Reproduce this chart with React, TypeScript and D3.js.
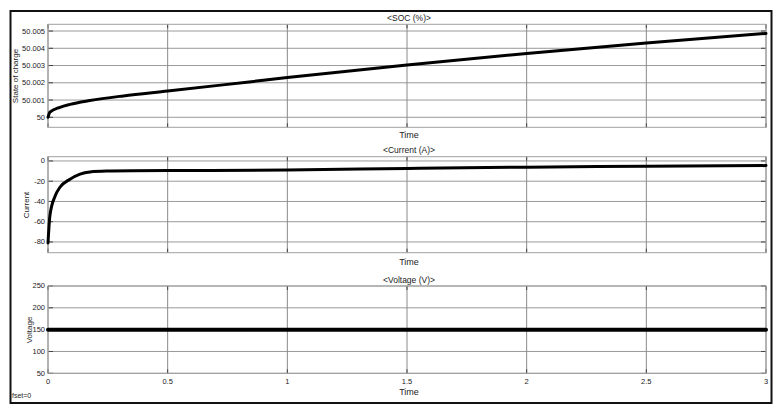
import React from 'react';
import * as d3 from 'd3';

// time axis, seconds
const timeTicks = [0, 0.5, 1, 1.5, 2, 2.5, 3];

// SOC (%)
const socTime = [0, 0.008, 0.05, 0.092, 0.175, 0.315, 0.5, 0.84, 1.0, 1.5, 2.0, 2.5, 3.0];
const socValue = [50.0, 50.0003, 50.00058, 50.00075, 50.00097, 50.00124, 50.00152, 50.00205, 50.0023, 50.00303, 50.0037, 50.00431, 50.00486];
const socTicks = [50, 50.001, 50.002, 50.003, 50.004, 50.005];
const socTickLabels = ['50', '50.001', '50.002', '50.003', '50.004', '50.005'];

// Current (A)
const curTime = [0, 0.008, 0.029, 0.05, 0.092, 0.134, 0.175, 0.245, 0.35, 0.5, 1.0, 1.5, 2.0, 2.5, 3.0];
const curValue = [-81, -54, -35, -26, -18, -13, -10.8, -9.9, -9.6, -9.5, -8.9, -7.4, -6.1, -5.3, -4.6];
const curTicks = [0, -20, -40, -60, -80];

// Voltage (V)
const voltTime = [0, 3];
const voltValue = [150, 150];
const voltTicks = [50, 100, 150, 200, 250];

const X0 = 48;
const X1 = 766;
const FONT = 'Liberation Sans, Arial, sans-serif';

type PanelProps = {
  top: number;
  bottom: number;
  domain: [number, number];
  ticks: number[];
  tickLabels?: string[];
  title: string;
  titleY: number;
  ylabel: string;
  ylabelX: number;
  ylabelY: number;
  timeY: number;
  xs: number[];
  ys: number[];
  lineWidth: number;
  showXTicks?: boolean;
};

function Panel(p: PanelProps) {
  const x = d3.scaleLinear().domain([0, 3]).range([X0, X1]);
  const y = d3.scaleLinear().domain(p.domain).range([p.bottom, p.top]);
  const pts = p.xs.map((t, i) => [t, p.ys[i]] as [number, number]);
  const line = d3
    .line<[number, number]>()
    .x(d => x(d[0]))
    .y(d => y(d[1]))
    .curve(d3.curveMonotoneX);

  return (
    <g>
      {/* horizontal grid */}
      {p.ticks.map((t, i) => (
        <g key={'h' + i}>
          <line x1={X0} x2={X1} y1={y(t)} y2={y(t)} stroke="#9a9a9a" strokeWidth={1} />
          <line x1={X0} x2={X0 + 5} y1={y(t)} y2={y(t)} stroke="#444" strokeWidth={1} />
          <line x1={X1 - 5} x2={X1} y1={y(t)} y2={y(t)} stroke="#444" strokeWidth={1} />
          <text x={45} y={y(t)} dy="0.33em" textAnchor="end" fontSize={7.5} fill="#222" fontFamily={FONT}>
            {p.tickLabels ? p.tickLabels[i] : String(t)}
          </text>
        </g>
      ))}
      {/* vertical grid */}
      {timeTicks.map((t, i) => (
        <g key={'v' + i}>
          <line x1={x(t)} x2={x(t)} y1={p.top} y2={p.bottom} stroke="#8a8a8a" strokeWidth={1} />
          <line x1={x(t)} x2={x(t)} y1={p.bottom - 4} y2={p.bottom} stroke="#444" strokeWidth={1} />
          <line x1={x(t)} x2={x(t)} y1={p.top} y2={p.top + 4} stroke="#444" strokeWidth={1} />
          {p.showXTicks && (
            <text x={x(t)} y={p.bottom + 11} textAnchor="middle" fontSize={7.5} fill="#222" fontFamily={FONT}>
              {String(t)}
            </text>
          )}
        </g>
      ))}
      <rect x={X0} y={p.top} width={X1 - X0} height={p.bottom - p.top} fill="none" stroke="#a0a0a0" strokeWidth={1} />
      <path d={line(pts) || ''} fill="none" stroke="#000" strokeWidth={p.lineWidth} strokeLinecap="round" />
      <text x={(X0 + X1) / 2 + 2} y={p.titleY} textAnchor="middle" fontSize={8.5} fill="#222" fontFamily={FONT}>
        {p.title}
      </text>
      <text x={(X0 + X1) / 2 + 2} y={p.timeY} textAnchor="middle" fontSize={9} fill="#222" fontFamily={FONT}>
        Time
      </text>
      <text
        transform={`translate(${p.ylabelX},${p.ylabelY}) rotate(-90)`}
        textAnchor="middle"
        dy="0.33em"
        fontSize={8}
        fill="#222"
        fontFamily={FONT}
      >
        {p.ylabel}
      </text>
    </g>
  );
}

export default function App() {
  return (
    <svg
      width={783}
      height={416}
      style={{ position: 'absolute', left: 0, top: 0, background: '#fff' }}
    >
      <rect x={0} y={0} width={783} height={416} fill="#fff" />
      <rect x={10.5} y={11} width={761} height={392} fill="none" stroke="#111" strokeWidth={2} />
      <Panel
        top={24.3}
        bottom={127.3}
        domain={[49.99942, 50.00539]}
        ticks={socTicks}
        tickLabels={socTickLabels}
        title="<SOC (%)>"
        titleY={21}
        ylabel="State of charge"
        ylabelX={15}
        ylabelY={76}
        timeY={138}
        xs={socTime}
        ys={socValue}
        lineWidth={3}
      />
      <Panel
        top={156.7}
        bottom={252.7}
        domain={[-90.6, 4.2]}
        ticks={curTicks}
        title="<Current (A)>"
        titleY={153}
        ylabel="Current"
        ylabelX={26}
        ylabelY={205}
        timeY={265}
        xs={curTime}
        ys={curValue}
        lineWidth={3}
      />
      <Panel
        top={286}
        bottom={373.3}
        domain={[50, 250]}
        ticks={voltTicks}
        title="<Voltage (V)>"
        titleY={283}
        ylabel="Voltage"
        ylabelX={29}
        ylabelY={330}
        timeY={395}
        xs={voltTime}
        ys={voltValue}
        lineWidth={4}
        showXTicks
      />
      <text x={12} y={398} fontSize={7} fill="#222" fontFamily={FONT}>
        fset=0
      </text>
    </svg>
  );
}
